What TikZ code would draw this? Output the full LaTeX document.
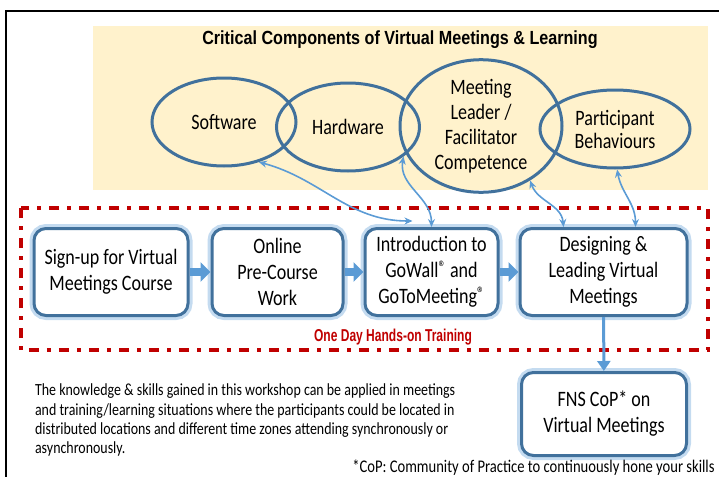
\documentclass[tikz,border=0pt]{standalone}
\usepackage{fontspec}
\setmainfont{Carlito}[FakeStretch=0.82]
\newfontfamily\headfont{Liberation Sans}[FakeStretch=0.85]
\newfontfamily\dayfont{Liberation Sans}[FakeStretch=0.7]
\usepackage{tikz}
\usetikzlibrary{arrows.meta,shapes.geometric,positioning}
\definecolor{ringc}{HTML}{41719C}
\definecolor{glowc}{HTML}{9DC3E6}
\definecolor{flowc}{HTML}{5B9BD5}
\definecolor{sandc}{HTML}{FFF2CC}
\definecolor{alertc}{HTML}{C00000}
\newcommand{\regmark}{\raisebox{0.45ex}{\fontsize{9}{9}\selectfont ®}}
\tikzset{
  ring/.style={ellipse, draw=ringc, line width=1.5pt, align=center, inner sep=0pt,
               font=\fontsize{11}{12.5}\selectfont},
  stage/.style={draw=ringc, line width=1.5pt, fill=white, rounded corners=6pt, align=center,
                preaction={draw=glowc, line width=4.5pt, opacity=0.6},
                font=\fontsize{11}{13}\selectfont, minimum height=43.5pt, inner sep=2pt},
  flow/.style={-{Triangle[length=5pt,width=9.5pt]}, line width=4pt, draw=flowc},
  drop/.style={-{Triangle[length=5pt,width=6.5pt]}, line width=1.5pt, draw=flowc},
  link/.style={{Stealth[length=4pt,width=3.5pt]}-{Stealth[length=4pt,width=3.5pt]}, line width=0.8pt, draw=flowc},
  head/.style={font=\headfont\bfseries\fontsize{9.5}{11}\selectfont},
  note/.style={align=left, font=\fontsize{8.5}{9.6}\selectfont},
}

\begin{document}
\begin{tikzpicture}[x=0.5pt,y=-0.5pt]
  \useasboundingbox (0,0) rectangle (719,477);
  % page frame and the components panel
  \draw[line width=1pt] (6,477) -- (6,10.5) -- (719,10.5);
  \fill[sandc] (93,26) rectangle (708,190);
  \node[head] (title) at (400,40) {Critical Components of Virtual Meetings \& Learning};

  \node[ring, minimum width=72pt, minimum height=44pt] (sw) at (224,122) {Software};
  \node[ring, minimum width=71.5pt, minimum height=44pt] (hw) at (348,127) {Hardware};
  \node[ring, minimum width=81pt, minimum height=62pt] (ml) at (481,126) {Meeting\\Leader /\\Facilitator\\Competence};
  \node[ring, minimum width=75pt, minimum height=39pt] (pb) at (615,129) {Participant\\[-1pt]Behaviours};

  % training day
  \draw[alertc, line width=1.8pt, dash pattern=on 5pt off 4pt on 2pt off 4pt] (21,208) rectangle (708,350);
  \node[stage, minimum width=77pt] (signup) at (111,272) {Sign-up for Virtual\\Meetings Course};
  \node[stage, minimum width=65.5pt] (precourse) at (277.5,272) {Online\\Pre-Course\\Work};
  \node[stage, minimum width=66.5pt] (intro) at (431.5,272) {Introduction to\\GoWall\regmark{} and\\GoToMeeting\regmark};
  \node[stage, minimum width=83.5pt] (design) at (603.5,272) {Designing \&\\Leading Virtual\\Meetings};
  \node[font=\dayfont\bfseries\fontsize{8.6}{10}\selectfont, text=alertc] (day) at (393,337) {One Day Hands-on Training};
  \node[stage, minimum width=82.5pt, minimum height=41.5pt] (cop) at (604,414) {FNS CoP* on\\Virtual Meetings};

  \draw[flow] (signup) -- (precourse);
  \draw[flow] (precourse) -- (intro);
  \draw[flow] (intro) -- (design);
  \draw[drop] (design) -- (cop);

  % which component each session works on
  \draw[link] (sw.-49) to[out=-15,in=180] ([xshift=-9.5pt,yshift=3pt]intro.north);
  \draw[link] (hw.-28) to[out=-100,in=90] (intro.north);
  \draw[link] (ml.-48) to[out=-70,in=95] ([xshift=-20pt]design.north);
  \draw[link] (pb.-87) to[out=-80,in=90] ([xshift=16pt]design.north);

  \node[note, anchor=north west] (applied) at (28,377) {The knowledge \& skills gained in this workshop can be applied in meetings\\
    and training/learning situations where the participants could be located in\\
    distributed locations and different time zones attending synchronously or\\
    asynchronously.};
  \node[anchor=east, inner sep=0pt, font=\fontsize{8.9}{10}\selectfont] (cpnote) at (715,468) {*CoP: Community of Practice to continuously hone your skills};
\end{tikzpicture}
\end{document}
